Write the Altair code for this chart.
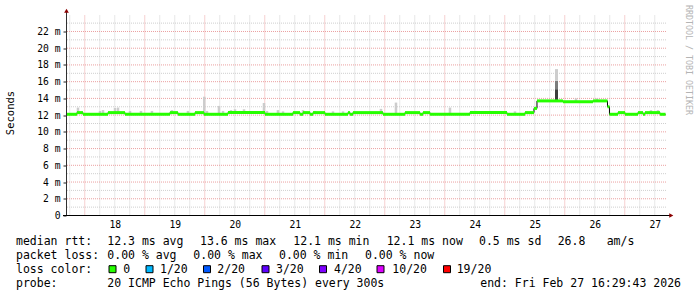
import altair as alt
import pandas as pd
import numpy as np

# ---------------- data ----------------
# x values are "day of month" (Feb 2026) with fractional part = time of day
median_start = [17.687, 17.870, 17.970, 18.387, 18.670, 19.420, 19.553, 19.837, 19.987, 20.387,
                21.004, 21.470, 21.587, 21.637, 21.754, 21.804, 22.004, 22.387, 22.420, 22.470,
                22.970, 23.337, 23.587, 23.637, 23.754, 24.420, 25.037, 25.337, 25.487, 25.537,
                25.970, 26.470, 26.712, 26.745, 26.887, 27.004, 27.220, 27.304, 27.337, 27.587]
median_ms = [12.1, 12.3, 12.1, 12.3, 12.1, 12.3, 12.1, 12.3, 12.1, 12.3,
             12.1, 12.3, 12.1, 12.3, 12.1, 12.3, 12.1, 12.3, 12.1, 12.3,
             12.1, 12.3, 12.1, 12.3, 12.1, 12.3, 12.1, 12.3, 12.8, 13.7,
             13.6, 13.7, 13.0, 12.1, 12.3, 12.1, 12.3, 12.1, 12.3, 12.1]
series_end = 27.679

smoke_day = [17.887, 18.254, 18.304, 18.504, 18.554, 18.754, 18.937, 19.120, 19.454, 19.720,
             19.992, 20.037, 20.237, 20.304, 20.437, 20.504, 20.587, 20.654, 20.987, 21.037,
             21.220, 21.304, 21.637, 21.837, 22.137, 22.304, 22.937, 23.187, 23.370, 24.087,
             24.454, 24.520, 25.170, 25.370, 26.187, 26.537, 27.437, 27.554]
smoke_top_ms = [12.9, 12.5, 12.6, 12.85, 12.9, 12.5, 12.5, 12.5, 12.6, 12.5,
                14.2, 12.5, 13.1, 12.5, 12.6, 12.7, 12.5, 12.7, 13.45, 12.5,
                12.6, 12.45, 12.6, 12.5, 12.45, 12.45, 12.75, 13.5, 12.4, 12.9,
                12.5, 12.5, 12.45, 12.45, 14.0, 14.0, 12.6, 12.6]

spike_day = 25.862
spike_low_ms = [13.7, 15.1, 16.1]
spike_high_ms = [15.1, 16.1, 17.5]
spike_shade = ["dark", "mid", "light"]

y_label_values = list(range(0, 23, 2))
day_labels = list(range(18, 28))

legend_heads = ["median rtt:", "packet loss:", "loss color:", "probe:"]
rtt_stats = ["12.3 ms avg", "13.6 ms max", "12.1 ms min", "12.1 ms now", "0.5 ms sd", "26.8", "am/s"]
loss_stats = ["0.00 % avg", "0.00 % max", "0.00 % min", "0.00 % now"]
loss_names = ["0", "1/20", "2/20", "3/20", "4/20", "10/20", "19/20"]
loss_colors = ["#26ff00", "#00b8ff", "#0059ff", "#5e00ff", "#7e00ff", "#dd00ff", "#ff0000"]
probe_text = "20 ICMP Echo Pings (56 Bytes) every 300s"
end_text = "end: Fri Feb 27 16:29:43 2026"
y_title = "Seconds"
watermark = "RRDTOOL / TOBI OETIKER"

# ---------------- layout ----------------
PAD_L, PAD_T, W, H = 66, 15.5, 600, 200
X_DOMAIN = [17.6873, 27.6873]
Y_DOMAIN = [0, 23.91]
MONO = "DejaVu Sans Mono"
LEG_FS = 11.5
row_y = [241.8, 255.8, 269.5, 283.5]
rtt_x = [107.3, 200.0, 293.3, 386.7, 479.0, 557.7, 606.7]
loss_x = [107.3, 193.3, 279.0, 365.0]
swatch_x = [112.5, 149.5, 207.0, 265.5, 323.0, 380.5, 447.0]
name_x = [123.3, 160.0, 217.3, 276.0, 334.0, 392.3, 456.7]
probe_x = 107.3
end_right = 681.0


def rx(v):
    return v - PAD_L


def ry(v):
    return v - PAD_T


xs = alt.Scale(domain=X_DOMAIN, nice=False, zero=False)
ys = alt.Scale(domain=Y_DOMAIN, nice=False, zero=False)
one = pd.DataFrame({"k": [0]})

X_AXIS = alt.Axis(values=[d + 0.5 for d in day_labels], labelExpr="floor(datum.value)",
                  ticks=False, tickSize=0, domain=False, grid=False, title=None,
                  labelFont=MONO, labelFontSize=9.7, labelColor="#000000",
                  labelPadding=4, labelBaseline="top", labelFlush=False, labelOverlap=False)
Y_AXIS = alt.Axis(values=y_label_values,
                  labelExpr="datum.value == 0 ? '0\u00a0\u00a0' : datum.value + ' m'",
                  ticks=True, tickSize=3, tickColor="#202020", domain=False,
                  grid=False, title=None, labelFont=MONO, labelFontSize=9.7,
                  labelColor="#000000", labelPadding=3, labelFlush=False, labelOverlap=False)


def X(f):
    return alt.X(f, scale=xs, axis=X_AXIS)


def Y(f):
    return alt.Y(f, scale=ys, axis=Y_AXIS)


# ---------------- grid ----------------
minor_h = [v for v in range(1, 24, 2)]
major_h = [v for v in range(2, 23, 2)]
major_v = day_labels
minor_v = [d + q for d in range(17, 28) for q in (0.25, 0.5, 0.75) if X_DOMAIN[0] < d + q < X_DOMAIN[1]]

grid_gray = "#cfcfcf"
grid_red = "#eba0a0"
layers = []
# first layer carries both axes (x from the band start, y from its value)
band_df = pd.DataFrame({"start": median_start, "end": median_start[1:] + [series_end], "ms": median_ms})
layers.append(alt.Chart(band_df).mark_rule(opacity=0)
              .encode(x=X("start:Q"), y=Y("ms:Q")))
layers.append(alt.Chart(pd.DataFrame({"v": minor_h})).mark_rule(color=grid_gray, strokeDash=[1, 1])
              .encode(y=Y("v:Q")))
layers.append(alt.Chart(pd.DataFrame({"v": minor_v})).mark_rule(color=grid_gray, strokeDash=[1, 1])
              .encode(x=X("v:Q")))
layers.append(alt.Chart(pd.DataFrame({"v": major_h})).mark_rule(color=grid_red, strokeDash=[1, 1])
              .encode(y=Y("v:Q")))
layers.append(alt.Chart(pd.DataFrame({"v": major_v})).mark_rule(color=grid_red, strokeDash=[1, 1])
              .encode(x=X("v:Q")))

# ---------------- smoke ----------------
idx = np.searchsorted(np.array(median_start), np.array(smoke_day), side="right") - 1
smoke_df = pd.DataFrame({"day": smoke_day, "top": smoke_top_ms,
                         "base": [median_ms[i] for i in idx]})
layers.append(alt.Chart(smoke_df).mark_rule(color="#cccccc", strokeWidth=2.5)
              .encode(x=X("day:Q"), y=Y("base:Q"), y2="top:Q"))
spike_df = pd.DataFrame({"day": [spike_day] * 3, "lo": spike_low_ms, "hi": spike_high_ms,
                         "shade": spike_shade})
layers.append(alt.Chart(spike_df).mark_rule(strokeWidth=3)
              .encode(x=X("day:Q"), y=Y("lo:Q"), y2="hi:Q",
                      color=alt.Color("shade:N", legend=None,
                                      scale=alt.Scale(domain=["dark", "mid", "light"],
                                                      range=["#3c3c3c", "#7c7c7c", "#cdcdcd"]))))

# ---------------- median ----------------
step_df = pd.DataFrame({"day": median_start + [series_end], "ms": median_ms + [median_ms[-1]]})
layers.append(alt.Chart(step_df).mark_line(interpolate="step-after", color="#000000", strokeWidth=1)
              .encode(x=X("day:Q"), y=Y("ms:Q")))
layers.append(alt.Chart(band_df).mark_rule(color=loss_colors[0], strokeWidth=3)
              .encode(x=X("start:Q"), x2="end:Q", y=Y("ms:Q")))

# ---------------- axis lines & arrows ----------------
layers.append(alt.Chart(one).mark_rule(color="#303030").encode(
    x=alt.value(0.5), y=alt.value(ry(12)), y2=alt.value(H)))
layers.append(alt.Chart(one).mark_rule(color="#000000").encode(
    x=alt.value(rx(63)), x2=alt.value(rx(670)), y=alt.value(H)))
layers.append(alt.Chart(one).mark_point(shape="triangle-up", filled=True, size=22, color="#8b0000", opacity=1).encode(
    x=alt.value(0.5), y=alt.value(ry(10.8))))
layers.append(alt.Chart(one).mark_point(shape="triangle-right", filled=True, size=22, color="#8b0000", opacity=1).encode(
    x=alt.value(rx(671.3)), y=alt.value(H)))


# ---------------- texts ----------------
def txt(s, x, y, align="left", fs=LEG_FS, color="#000000", angle=0, font=MONO):
    kw = dict(align=align, baseline="middle", font=font, fontSize=fs, color=color)
    if angle:
        kw["angle"] = angle
    return alt.Chart(one).mark_text(**kw).encode(
        x=alt.value(rx(x)), y=alt.value(ry(y)), text=alt.value(s))


layers.append(txt(y_title, 10.5, 113, align="center", fs=10.5, angle=270))
layers.append(txt(watermark, 687.5, 60, align="center", fs=8.3, color="#b4b4b4", angle=90))

for i, h in enumerate(legend_heads):
    layers.append(txt(h, 16, row_y[i]))
for s, x in zip(rtt_stats, rtt_x):
    layers.append(txt(s, x, row_y[0]))
for s, x in zip(loss_stats, loss_x):
    layers.append(txt(s, x, row_y[1]))
for s, c, sx, nx in zip(loss_names, loss_colors, swatch_x, name_x):
    layers.append(alt.Chart(one).mark_square(size=49, fill=c, stroke="#000000", strokeWidth=1, opacity=1)
                  .encode(x=alt.value(rx(sx)), y=alt.value(ry(row_y[2] - 0.3))))
    layers.append(txt(s, nx, row_y[2]))
layers.append(txt(probe_text, probe_x, row_y[3]))
layers.append(txt(end_text, end_right, row_y[3], align="right"))

chart = alt.layer(*layers).properties(
    width=W, height=H,
    autosize=alt.AutoSizeParams(type="none"),
    padding={"left": PAD_L, "top": PAD_T, "right": 697 - PAD_L - W, "bottom": 297 - PAD_T - H},
    background="#ffffff",
).configure_view(stroke=None)

chart.save("out.html", embed_options={"renderer": "svg", "actions": False})
